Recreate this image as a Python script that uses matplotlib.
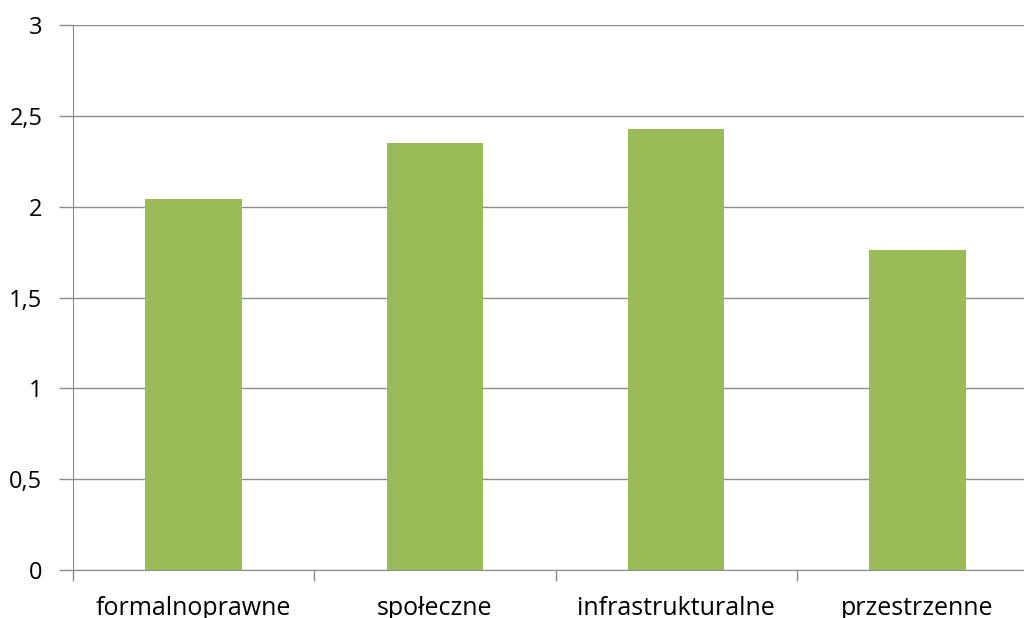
import matplotlib
matplotlib.use('Agg')
import matplotlib.pyplot as plt
import numpy as np

categories = ['formalnoprawne', 'społeczne', 'infrastrukturalne', 'przestrzenne']
values = [2.04, 2.35, 2.43, 1.76]
yticks = [0, 0.5, 1, 1.5, 2, 2.5, 3]
ylabels = ['0', '0,5', '1', '1,5', '2', '2,5', '3']

plt.rcParams['font.family'] = ['Open Sans', 'DejaVu Sans']

fig = plt.figure(figsize=(10.24, 6.18), dpi=100)
ax = fig.add_axes([73/1024, 48/618, 965/1024, 545/618])

x = np.arange(len(categories))
ax.bar(x, values, width=0.4, color='#9BBB59', zorder=3)

ax.set_xlim(-0.5, len(categories) - 0.5)
ax.set_ylim(0, 3)
ax.set_yticks(yticks)
ax.set_yticklabels(ylabels, fontsize=17)
ax.yaxis.grid(True, color='#8c8c8c', linewidth=1, zorder=0)

# category labels at centers, tick marks at boundaries
ax.set_xticks(x)
ax.set_xticklabels(categories, fontsize=18)
ax.tick_params(axis='x', length=0, pad=19)
ax.set_xticks(np.arange(len(categories) + 1) - 0.5, minor=True)
ax.tick_params(axis='x', which='minor', length=8, color='#8c8c8c', width=1)
ax.tick_params(axis='y', length=10, color='#8c8c8c', width=1, pad=12)

for side in ['top', 'right']:
    ax.spines[side].set_visible(False)
ax.spines['left'].set_color('#8c8c8c')
ax.spines['bottom'].set_color('#8c8c8c')

fig.savefig('out.png', dpi=100)
